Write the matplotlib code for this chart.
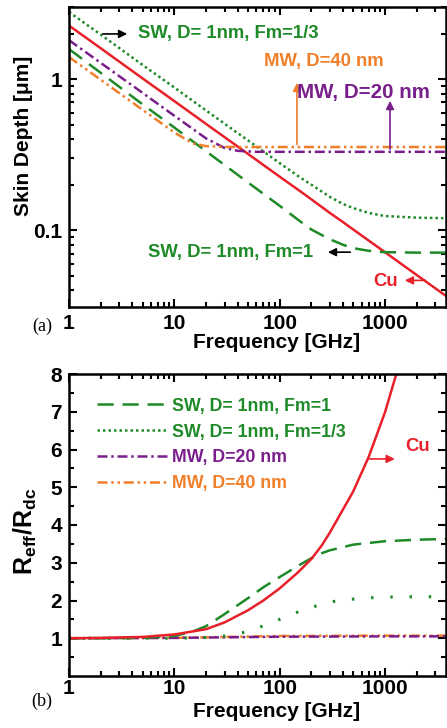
import matplotlib.pyplot as plt
from matplotlib.lines import Line2D

plt.rcParams["font.family"] = "Liberation Sans"
plt.rcParams["font.weight"] = "bold"
plt.rcParams["mathtext.fontset"] = "custom"
plt.rcParams["mathtext.rm"] = "Liberation Sans:bold"
plt.rcParams["mathtext.bf"] = "Liberation Sans:bold"
plt.rcParams["mathtext.it"] = "Liberation Sans:bold"

GREEN = "#1e8a28"
RED = "#e8202a"
PURPLE = "#7a1e8c"
ORANGE = "#f07f2a"

# ---- (a) skin depth [um] vs frequency [GHz]
f_top = [1, 2, 5, 10, 20, 50, 100, 150, 200, 300, 400, 500, 700, 1000, 2000, 3800]
cu_depth = [2.26, 1.60, 1.01, 0.715, 0.505, 0.320, 0.226, 0.185, 0.160, 0.130,
            0.113, 0.101, 0.0854, 0.0715, 0.0505, 0.0367]
sw1_depth = [1.58, 1.10, 0.68, 0.478, 0.333, 0.207, 0.145, 0.117, 0.101, 0.087,
             0.080, 0.076, 0.073, 0.0715, 0.071, 0.071]
sw3_depth = [2.78, 1.97, 1.24, 0.88, 0.62, 0.393, 0.278, 0.228, 0.200, 0.166,
             0.149, 0.140, 0.130, 0.124, 0.121, 0.120]
f_mw20 = [1, 2, 5, 10, 20, 30, 40, 60, 100, 1000, 3800]
mw20_depth = [1.81, 1.28, 0.81, 0.572, 0.405, 0.350, 0.335, 0.330, 0.33, 0.33, 0.33]
f_mw40 = [1, 2, 5, 10, 15, 20, 30, 50, 100, 1000, 3800]
mw40_depth = [1.40, 0.99, 0.626, 0.443, 0.375, 0.360, 0.356, 0.355, 0.355, 0.355, 0.355]

# ---- (b) Reff/Rdc vs frequency
f_cu = [1, 2, 5, 10, 20, 30, 50, 70, 100, 150, 200, 250, 300, 500, 700, 1000, 1400]
cu_ratio = [1.0, 1.01, 1.035, 1.10, 1.24, 1.42, 1.74, 2.0, 2.32, 2.75, 3.1, 3.45,
            3.80, 4.89, 5.80, 6.98, 8.36]
f_sw1 = [1, 2, 5, 10, 15, 20, 30, 50, 70, 100, 150, 200, 250, 300, 500, 1000, 2000, 3800]
sw1_ratio = [1.0, 1.0, 1.01, 1.06, 1.18, 1.32, 1.64, 2.06, 2.35, 2.62, 2.92, 3.12,
             3.25, 3.33, 3.48, 3.57, 3.61, 3.63]
f_sw3 = [1, 10, 20, 30, 45, 60, 85, 115, 160, 225, 300, 400, 600, 1000, 2000, 3800]
sw3_ratio = [1.0, 1.0, 1.02, 1.06, 1.15, 1.26, 1.42, 1.57, 1.73, 1.86, 1.96, 2.01,
             2.06, 2.09, 2.10, 2.10]
f_mw = [1, 10, 100, 1000, 3800]
mw20_ratio = [1.0, 1.01, 1.04, 1.05, 1.05]
mw40_ratio = [1.0, 1.01, 1.06, 1.07, 1.07]

labels = ["SW, D= 1nm, Fm=1", "SW, D= 1nm, Fm=1/3", "MW, D=20 nm", "MW, D=40 nm"]

lw = 1.8
st_sw1 = dict(color=GREEN, lw=lw, dashes=(6.5, 3.5))
st_sw3 = dict(color=GREEN, lw=lw, dashes=(1.0, 1.2))
st_mw20 = dict(color=PURPLE, lw=lw, dashes=(4.0, 1.5, 1.0, 1.5))
st_mw40 = dict(color=ORANGE, lw=lw, dashes=(4.0, 1.5, 1.0, 1.5, 1.0, 1.5))

fig = plt.figure(figsize=(4.47, 7.28), dpi=100)
ax1 = fig.add_axes([69 / 447, 1 - 307 / 728, 377 / 447, 300 / 728])
ax2 = fig.add_axes([69 / 447, 1 - 676 / 728, 377 / 447, 302 / 728])

ax1.plot(f_top, sw3_depth, **st_sw3)
ax1.plot(f_top, cu_depth, color=RED, lw=lw)
ax1.plot(f_mw20, mw20_depth, **st_mw20)
ax1.plot(f_top, sw1_depth, **st_sw1)
ax1.plot(f_mw40, mw40_depth, **st_mw40)
ax1.set_xscale("log")
ax1.set_yscale("log")
ax1.set_xlim(1, 3800)
ax1.set_ylim(0.031, 3.0)
ax1.set_yticks([0.1, 1], labels=["0.1", "1"])

ax2.plot(f_mw, mw40_ratio, **st_mw40)
ax2.plot(f_mw, mw20_ratio, **st_mw20)
ax2.plot(f_sw3, sw3_ratio, color=GREEN, lw=2.2, dashes=(0.8, 5.5))
ax2.plot(f_sw1, sw1_ratio, **st_sw1)
ax2.plot(f_cu, cu_ratio, color=RED, lw=lw)
ax2.set_xscale("log")
ax2.set_xlim(1, 3800)
ax2.set_ylim(0, 8)
ax2.set_yticks(range(1, 9))
ax2.set_yticks([x + 0.5 for x in range(0, 8)], minor=True)

for ax in (ax1, ax2):
    ax.set_xticks([1, 10, 100, 1000], labels=["1", "10", "100", "1000"])
    ax.tick_params(which="both", direction="in", top=True, right=True, width=1.5,
                   labelsize=15, pad=5)
    ax.tick_params(which="major", length=6)
    ax.tick_params(which="minor", length=3.5)
    for s in ax.spines.values():
        s.set_linewidth(1.8)
    ax.set_xlabel("Frequency [GHz]", fontsize=15, fontweight="bold")
ax2.tick_params(axis="x", pad=2.5)
ax1.xaxis.set_label_coords(0.55, -0.088)
ax2.xaxis.set_label_coords(0.55, -0.086)

ax1.set_ylabel("Skin Depth [\u03bcm]", fontsize=15, fontweight="bold")
ax1.yaxis.set_label_coords(-0.095, 0.57)
ax2.set_ylabel(r"$\mathbf{R_{eff}/R_{dc}}$", fontsize=18)
ax2.yaxis.set_label_coords(-0.08, 0.48)

# annotations panel (a)
arw = dict(arrowstyle="-|>", lw=1.2, mutation_scale=12)
tk = dict(fontsize=13.3, fontweight="bold", va="center")
ax1.annotate("", xy=(3.79, 1.99), xytext=(1.97, 1.99), arrowprops=dict(color="black", **arw))
ax1.text(4.52, 1.99, labels[1], color=GREEN, **tk)
ax1.annotate("", xy=(146, 0.985), xytext=(146, 0.354), arrowprops=dict(color=ORANGE, **arw))
ax1.text(71, 1.316, labels[3], color=ORANGE, **tk)
ax1.annotate("", xy=(1117, 0.748), xytext=(1117, 0.329), arrowprops=dict(color=PURPLE, **arw))
ax1.text(146, 0.82, labels[2], color=PURPLE, fontsize=14.8, fontweight="bold", va="center")
ax1.annotate("", xy=(270, 0.0715), xytext=(498, 0.0715), arrowprops=dict(color="black", **arw))
ax1.text(5.63, 0.0715, labels[0], color=GREEN, **tk)
ax1.annotate("", xy=(1453, 0.0465), xytext=(2566, 0.0465), arrowprops=dict(color=RED, **arw))
ax1.text(771, 0.0459, "Cu", color=RED, **tk)

# annotations panel (b)
ax2.annotate("", xy=(1318, 5.75), xytext=(674, 5.75), arrowprops=dict(color=RED, **arw))
ax2.text(1552, 6.07, "Cu", color=RED, **tk)

handles = [Line2D([], [], **st_sw1), Line2D([], [], **st_sw3),
           Line2D([], [], **st_mw20), Line2D([], [], **st_mw40)]
leg = ax2.legend(handles, labels, loc="upper left", bbox_to_anchor=(0.056, 0.945),
                 frameon=False, handlelength=3.9, handletextpad=0.3,
                 labelspacing=0.5, borderaxespad=0, prop=dict(size=12.8, weight="bold"))
for txt, c in zip(leg.get_texts(), [GREEN, GREEN, PURPLE, ORANGE]):
    txt.set_color(c)

fig.text(42 / 447, 1 - 326 / 728, "(a)", family="Liberation Serif", fontweight="normal",
         fontsize=13, ha="center", va="center")
fig.text(42 / 447, 1 - 701 / 728, "(b)", family="Liberation Serif", fontweight="normal",
         fontsize=13, ha="center", va="center")

fig.savefig("out.png", dpi=100)
